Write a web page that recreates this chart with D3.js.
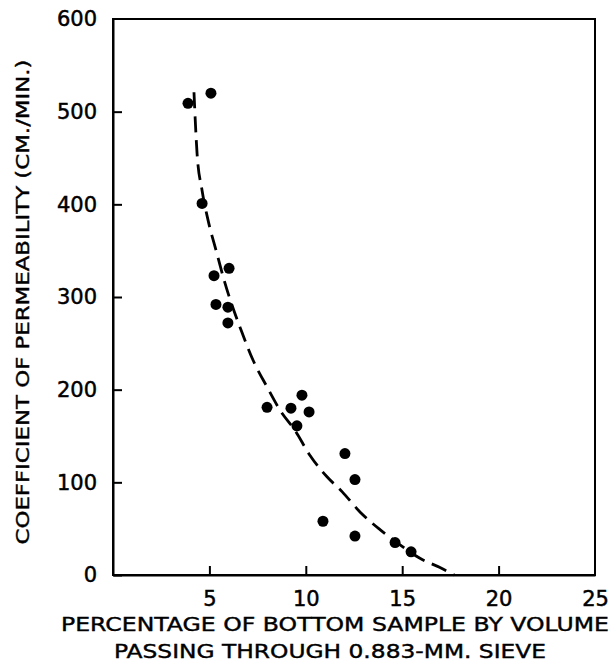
<!DOCTYPE html>
<html><head><meta charset="utf-8">
<script src="https://cdn.jsdelivr.net/npm/d3@7"></script>
<style>body{margin:0;background:#fff}svg{display:block}</style>
</head><body>
<svg id="c" width="613" height="665"></svg>
<script>
const pointX = [3.89, 5.08, 4.62, 5.24, 6.02, 5.34, 5.96, 5.96, 7.99, 9.23, 9.80, 10.17, 9.54, 12.03, 12.55, 10.89, 12.55, 14.63, 15.46];
const pointY = [509, 520, 401, 323, 331, 292, 289, 272, 181, 180, 194, 176, 161, 131, 103, 58, 42, 35, 25];
const curveX = [4.20, 4.36, 4.62, 4.93, 5.39, 5.71, 6.74, 7.26, 7.99, 8.66, 9.44, 10.22, 11.10, 11.88, 12.81, 13.85, 14.73, 15.92, 16.96, 17.70];
const curveY = [521, 455, 415, 383, 347, 322, 259, 232, 203, 178, 156, 129, 106, 90, 68, 49, 35, 18, 8, 0];
const xTicks = [5, 10, 15, 20, 25];
const yTicks = [0, 100, 200, 300, 400, 500, 600];
const xTitle1 = "PERCENTAGE OF BOTTOM SAMPLE BY VOLUME";
const xTitle2 = "PASSING THROUGH 0.883-MM. SIEVE";
const yTitle = "COEFFICIENT OF PERMEABILITY (CM./MIN.)";

const svg = d3.select("#c");
const L = 113, R = 595, T = 19, B = 575;
const x = d3.scaleLinear().domain([0, 25]).range([L, R]);
const y = d3.scaleLinear().domain([0, 600]).range([B, T]);
const font = "'DejaVu Sans', sans-serif";

// frame
svg.append("rect").attr("x", L).attr("y", T).attr("width", R - L).attr("height", B - T)
  .attr("fill", "none").attr("stroke", "#000").attr("stroke-width", 2);

// axes with inward ticks
const gx = svg.append("g").attr("transform", `translate(0,${B})`)
  .call(d3.axisBottom(x).tickValues(xTicks).tickSizeInner(-9).tickSizeOuter(0).tickPadding(13));
const gy = svg.append("g").attr("transform", `translate(${L},0)`)
  .call(d3.axisLeft(y).tickValues(yTicks).tickSizeInner(-9).tickSizeOuter(0).tickPadding(16));
[gx, gy].forEach(g => {
  g.select(".domain").attr("stroke-width", 2);
  g.selectAll(".tick line").attr("stroke-width", 2);
  g.selectAll("text").attr("font-family", font).attr("font-size", 21).attr("fill", "#000")
    .attr("stroke", "#000").attr("stroke-width", 0.5);
});
gy.selectAll(".tick").filter(d => d === 600).select("line").remove();
gx.selectAll(".tick").filter(d => d === 25).select("line").remove();
gx.selectAll("text").attr("dy", "0.85em");

// curve
const line = d3.line().x((d, i) => x(curveX[i])).y((d, i) => y(curveY[i])).curve(d3.curveMonotoneX);
svg.append("path").datum(curveX).attr("d", line).attr("fill", "none")
  .attr("stroke", "#000").attr("stroke-width", 2.8).attr("stroke-dasharray", "16,8");

// points
svg.append("g").selectAll("circle").data(pointX).join("circle")
  .attr("cx", d => x(d)).attr("cy", (d, i) => y(pointY[i])).attr("r", 5.5).attr("fill", "#000");

// titles
const tstyle = s => s.attr("font-family", font).attr("fill", "#000").attr("stroke", "#000")
  .attr("stroke-width", 0.4).attr("lengthAdjust", "spacingAndGlyphs").attr("text-anchor", "middle");
svg.append("text").attr("x", 335).attr("y", 631).attr("font-size", 19).attr("textLength", 548)
  .call(tstyle).text(xTitle1);
svg.append("text").attr("x", 330).attr("y", 658).attr("font-size", 19).attr("textLength", 432)
  .call(tstyle).text(xTitle2);
svg.append("text").attr("transform", `translate(29,302) rotate(-90)`).attr("font-size", 18)
  .attr("textLength", 485).call(tstyle).text(yTitle);
</script>
</body></html>
